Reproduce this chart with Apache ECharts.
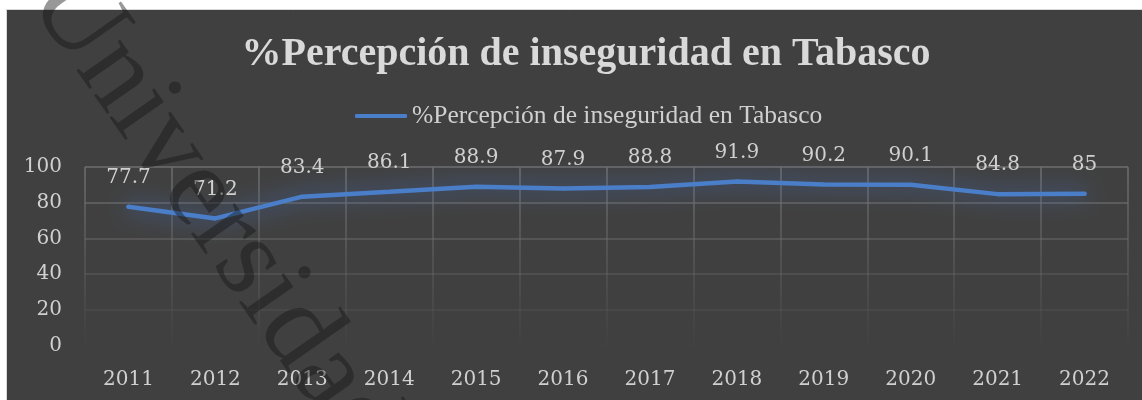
<!DOCTYPE html>
<html>
<head>
  <meta charset="utf-8">
  <title></title>
  <style>
    html, body { margin: 0; padding: 0; background: #fff; }
  </style>
</head>
<body>
  <div id="main" style="width: 1142px;height:400px;"></div>
  <script src="https://cdn.jsdelivr.net/npm/echarts@6/dist/echarts.min.js"></script>
  <script>
    let years = ['2011', '2012', '2013', '2014', '2015', '2016', '2017', '2018', '2019', '2020', '2021', '2022'];
    let percepcion = [77.7, 71.2, 83.4, 86.1, 88.9, 87.9, 88.8, 91.9, 90.2, 90.1, 84.8, 85];
    let yTicks = { min: 0, max: 100, interval: 20 };
    let titulo = '%Percepción de inseguridad en Tabasco';

    var myChart = echarts.init(document.getElementById('main'));

    // gridlines fade out toward the bottom, like the excel chart
    let gridColor = new echarts.graphic.LinearGradient(0, 167, 0, 350, [
      { offset: 0, color: 'rgba(110,110,110,1)' },
      { offset: 1, color: 'rgba(110,110,110,0)' }
    ], true);

    let numFont = { color: '#d0d0d0', fontFamily: 'DejaVu Serif', fontSize: 20 };
    let lineBlue = '#4a7ec8';

    option = {
      backgroundColor: 'transparent',
      animation: false,
      title: {
        text: titulo,
        left: 581,
        textAlign: 'center',
        top: 30,
        textStyle: { color: '#d9d9d9', fontFamily: 'Liberation Serif', fontWeight: 'bold', fontSize: 40 }
      },
      legend: {
        left: 350,
        top: 98,
        icon: 'roundRect',
        itemWidth: 52,
        itemHeight: 4,
        textStyle: { color: '#d0d0d0', fontFamily: 'Liberation Serif', fontSize: 25.5 }
      },
      graphic: [
        {
          type: 'rect',
          z: -100,
          shape: { x: 6.5, y: 9.5, width: 1140, height: 395 },
          style: { fill: '#404040', stroke: '#d9d9d9', lineWidth: 1 }
        },
        {
          // watermark
          type: 'text',
          z: 100,
          x: 52,
          y: -18,
          rotation: -55 * Math.PI / 180,
          style: {
            text: 'Universidad',
            fontFamily: 'Liberation Serif',
            fontSize: 116,
            fill: 'rgba(20,20,20,0.44)',
            textAlign: 'left',
            textVerticalAlign: 'middle'
          }
        }
      ],
      grid: { left: 85, right: 14, top: 167, bottom: 54.5 },
      xAxis: {
        type: 'category',
        data: years,
        boundaryGap: true,
        axisLine: { show: false },
        axisTick: { show: false },
        axisLabel: Object.assign({ margin: 24 }, numFont),
        splitLine: { show: true, lineStyle: { color: gridColor, width: 1.5 } }
      },
      yAxis: {
        type: 'value',
        min: yTicks.min,
        max: yTicks.max,
        interval: yTicks.interval,
        axisLine: { show: false },
        axisTick: { show: false },
        axisLabel: Object.assign({ margin: 23 }, numFont),
        splitLine: { show: true, lineStyle: { color: gridColor, width: 1.5 } }
      },
      series: [{
        name: titulo,
        type: 'line',
        data: percepcion,
        symbol: 'circle',
        symbolSize: 4,
        showSymbol: true,
        itemStyle: { color: lineBlue, borderWidth: 0 },
        color: lineBlue,
        lineStyle: {
          width: 4.5,
          cap: 'round',
          color: lineBlue,
          shadowColor: 'rgba(68,114,196,1)',
          shadowBlur: 22
        },
        label: Object.assign({ show: true, position: 'top', distance: 17 }, numFont)
      }]
    };

    myChart.setOption(option);
  </script>
</body>
</html>
